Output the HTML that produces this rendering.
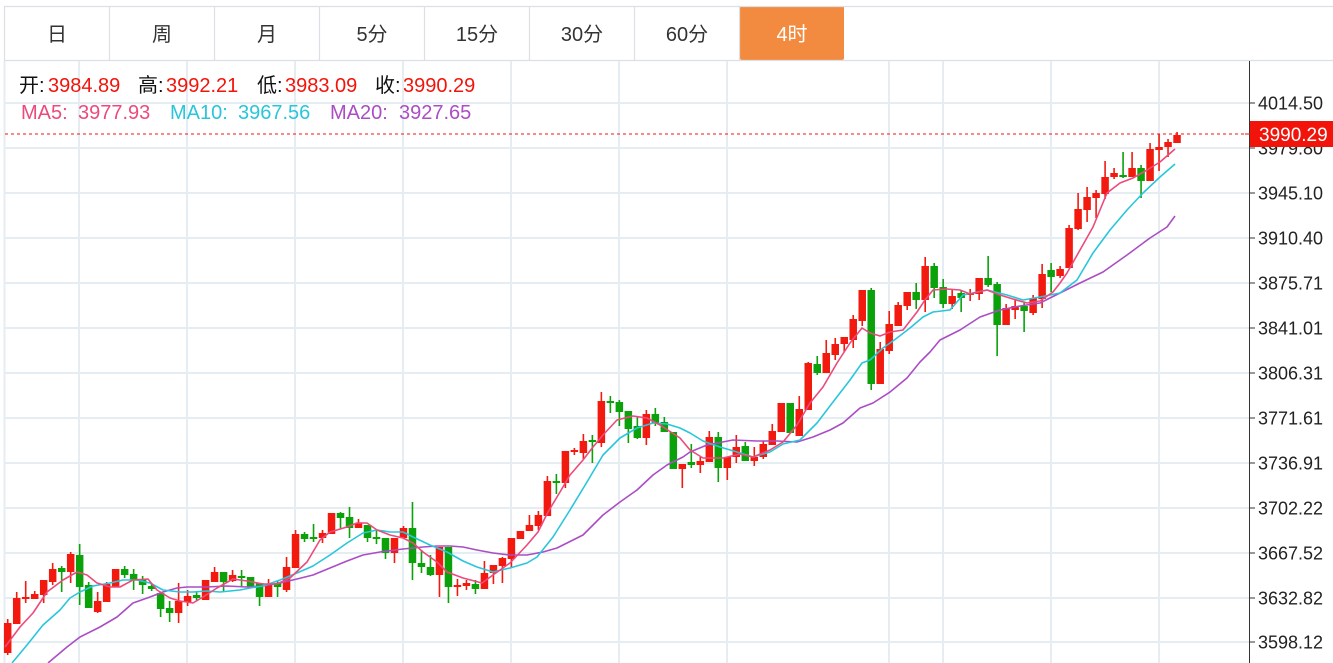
<!DOCTYPE html>
<html><head><meta charset="utf-8"><style>
html,body{margin:0;padding:0;background:#fff;}
body{width:1333px;height:663px;overflow:hidden;position:relative;font-family:"Liberation Sans","Noto Sans CJK SC",sans-serif;}
svg{position:absolute;left:0;top:0;}
</style></head><body>
<svg width="1333" height="663" viewBox="0 0 1333 663" xmlns="http://www.w3.org/2000/svg" font-family="Liberation Sans, Noto Sans CJK SC, sans-serif">
<!-- tab bar -->
<rect x="740" y="6" width="104" height="54" rx="2" fill="#F28B3F"/>
<line x1="4" y1="6.5" x2="1333" y2="6.5" stroke="#dcdfe3" stroke-width="1.2"/>
<line x1="4" y1="60.5" x2="1333" y2="60.5" stroke="#dcdfe3" stroke-width="1.2"/>
<g stroke="#dcdfe3" stroke-width="1.2">
<line x1="4.5" y1="6" x2="4.5" y2="60"/><line x1="109.5" y1="6" x2="109.5" y2="60"/><line x1="214.5" y1="6" x2="214.5" y2="60"/><line x1="319.5" y1="6" x2="319.5" y2="60"/><line x1="424.5" y1="6" x2="424.5" y2="60"/><line x1="529.5" y1="6" x2="529.5" y2="60"/><line x1="634.5" y1="6" x2="634.5" y2="60"/><line x1="739.5" y1="6" x2="739.5" y2="60"/>
</g>
<g font-size="20" fill="#333" text-anchor="middle">
<text x="57" y="41">日</text><text x="162" y="41">周</text><text x="267" y="41">月</text><text x="372" y="41">5分</text><text x="477" y="41">15分</text><text x="582" y="41">30分</text><text x="687" y="41">60分</text><text x="792" y="41" fill="#fff">4时</text>
</g>
<!-- grid -->
<g stroke="#e6edf2" stroke-width="2">
<line x1="4" y1="103" x2="1249" y2="103"/><line x1="4" y1="148" x2="1249" y2="148"/><line x1="4" y1="193" x2="1249" y2="193"/><line x1="4" y1="238" x2="1249" y2="238"/><line x1="4" y1="283" x2="1249" y2="283"/><line x1="4" y1="328" x2="1249" y2="328"/><line x1="4" y1="373" x2="1249" y2="373"/><line x1="4" y1="418" x2="1249" y2="418"/><line x1="4" y1="463" x2="1249" y2="463"/><line x1="4" y1="508" x2="1249" y2="508"/><line x1="4" y1="553" x2="1249" y2="553"/><line x1="4" y1="598" x2="1249" y2="598"/><line x1="4" y1="642" x2="1249" y2="642"/>
<line x1="79" y1="61" x2="79" y2="663"/><line x1="187" y1="61" x2="187" y2="663"/><line x1="295" y1="61" x2="295" y2="663"/><line x1="403" y1="61" x2="403" y2="663"/><line x1="511" y1="61" x2="511" y2="663"/><line x1="619" y1="61" x2="619" y2="663"/><line x1="727" y1="61" x2="727" y2="663"/><line x1="889" y1="61" x2="889" y2="663"/><line x1="943" y1="61" x2="943" y2="663"/><line x1="1051" y1="61" x2="1051" y2="663"/><line x1="1159" y1="61" x2="1159" y2="663"/>
<line x1="4.5" y1="61" x2="4.5" y2="663"/>
</g>
<g id="candles"></g>
<!-- MA lines -->
<polyline fill="none" stroke="#AB4DC4" stroke-width="1.6" stroke-linejoin="round" points="48,663 67,647 80,637 100,627 117,617 133,603 150,597 163,592 177,588 187,587 207,587 227,586 247,587 263,586 280,583 297,579 313,575 330,568 347,561 363,555 380,552 403,549 423,547 437,546 450,546 463,547 477,550 493,553 510,555 527,555 543,552 557,548 583,535 603,515 620,502 637,490 653,475 667,465 683,457 690,452 707,445 733,440 757,441 777,441 797,442 813,437 830,430 843,423 860,408 873,403 890,392 907,378 920,362 930,352 940,340 960,330 980,317 1000,310 1020,306 1040,303 1060,293 1080,283 1103,272 1127,255 1150,238 1167,227 1175,216"/>
<polyline fill="none" stroke="#29C6DB" stroke-width="1.6" stroke-linejoin="round" points="12,663 27,645 43,625 60,610 70,598 80,592 93,586 110,583 123,580 137,580 150,583 163,590 180,592 193,592 207,591 220,592 240,590 250,588 263,586 280,580 297,573 313,566 330,555 347,543 363,533 377,530 390,532 403,532 413,537 430,545 447,552 463,561 477,567 493,572 510,568 527,563 537,557 553,537 570,510 587,482 603,455 620,438 637,428 653,423 667,424 680,428 690,433 703,441 720,447 737,452 753,457 770,452 783,444 800,440 817,423 833,402 850,380 862,363 870,360 883,348 897,338 910,328 923,317 933,312 950,310 963,295 987,290 1007,295 1023,300 1040,297 1060,293 1077,280 1093,253 1110,230 1127,210 1143,193 1160,177 1175,164"/>
<polyline fill="none" stroke="#EC4A7C" stroke-width="1.6" stroke-linejoin="round" points="5,647 20,627 33,613 47,592 63,580 77,572 87,575 97,583 110,587 120,587 133,580 148,579 157,590 170,598 180,601 193,603 203,597 217,588 233,579 247,581 263,584 277,584 290,578 307,562 320,540 330,532 347,527 357,523 367,523 377,530 390,535 403,538 413,543 423,552 437,562 447,572 463,578 482,583 493,575 510,563 527,545 538,532 548,512 560,492 570,475 583,460 593,447 603,435 617,420 633,416 647,418 660,425 680,438 690,450 703,458 723,458 740,454 753,457 770,450 783,442 797,425 810,403 823,387 837,363 850,343 862,328 870,333 880,336 890,332 903,330 917,312 925,300 933,290 947,289 960,290 970,294 987,290 1000,295 1013,299 1027,303 1040,301 1053,292 1060,283 1067,273 1080,250 1093,227 1107,193 1120,183 1133,178 1147,170 1160,162 1175,149"/>
<!-- last price dashed line -->
<line x1="5" y1="134" x2="1249" y2="134" stroke="#f0140a" stroke-width="1" stroke-dasharray="3,3"/>
<!-- axis -->
<line x1="1249.5" y1="61" x2="1249.5" y2="663" stroke="#333" stroke-width="1"/>
<g stroke="#333" stroke-width="1">
<line x1="1249" y1="103" x2="1255" y2="103"/><line x1="1249" y1="148" x2="1255" y2="148"/><line x1="1249" y1="193" x2="1255" y2="193"/><line x1="1249" y1="238" x2="1255" y2="238"/><line x1="1249" y1="283" x2="1255" y2="283"/><line x1="1249" y1="328" x2="1255" y2="328"/><line x1="1249" y1="373" x2="1255" y2="373"/><line x1="1249" y1="418" x2="1255" y2="418"/><line x1="1249" y1="463" x2="1255" y2="463"/><line x1="1249" y1="508" x2="1255" y2="508"/><line x1="1249" y1="553" x2="1255" y2="553"/><line x1="1249" y1="598" x2="1255" y2="598"/><line x1="1249" y1="642" x2="1255" y2="642"/>
</g>
<g font-size="18" fill="#222">
<text x="1258" y="109.5">4014.50</text><text x="1258" y="154.5">3979.80</text><text x="1258" y="199.5">3945.10</text><text x="1258" y="244.5">3910.40</text><text x="1258" y="289.5">3875.71</text><text x="1258" y="334.5">3841.01</text><text x="1258" y="379.5">3806.31</text><text x="1258" y="424.5">3771.61</text><text x="1258" y="469.5">3736.91</text><text x="1258" y="514.5">3702.22</text><text x="1258" y="559.5">3667.52</text><text x="1258" y="604.5">3632.82</text><text x="1258" y="648.5">3598.12</text>
</g>
<line x1="1245" y1="134" x2="1250" y2="134" stroke="#f0140a" stroke-width="1"/>
<rect x="1250" y="121" width="83" height="26" fill="#F2140A"/>
<text x="1259" y="141" font-size="19" fill="#fff">3990.29</text>
<!-- info text -->
<g font-size="20">
<text x="19" y="92" fill="#111">开:</text><text x="48" y="92" fill="#F2140A">3984.89</text>
<text x="138" y="92" fill="#111">高:</text><text x="166" y="92" fill="#F2140A">3992.21</text>
<text x="257" y="92" fill="#111">低:</text><text x="285" y="92" fill="#F2140A">3983.09</text>
<text x="375" y="92" fill="#111">收:</text><text x="403" y="92" fill="#F2140A">3990.29</text>
<text x="21" y="119" fill="#EC4A7C">MA5:</text><text x="78" y="119" fill="#EC4A7C">3977.93</text>
<text x="170" y="119" fill="#29C6DB">MA10:</text><text x="238" y="119" fill="#29C6DB">3967.56</text>
<text x="330" y="119" fill="#AB4DC4">MA20:</text><text x="399" y="119" fill="#AB4DC4">3927.65</text>
</g>
</svg>
<script>
var D=[
['r',623,653,619,655],['r',598,624,592,624],['r',597,599,581,603],['r',594,599,591,599],['r',580,595,580,603],['r',569,582,563,585],['g',568,572,566,592],['r',554,572,552,583],['g',555,587,544,605],['g',585,608,582,608],
['r',601,612,592,613],['r',584,602,582,602],['r',569,587,569,587],['g',569,575,566,578],['g',574,580,569,590],['g',579,585,576,594],['g',586,589,583,591],['g',593,609,593,617],['g',608,613,601,622],['r',601,613,583,623],
['r',596,602,590,606],['g',595,598,592,601],['r',580,600,580,600],['r',572,582,567,582],['g',572,582,572,591],['r',575,581,570,582],['g',576,578,570,586],['g',577,587,577,587],['g',583,597,583,606],['r',584,597,579,597],
['g',583,587,581,597],['r',567,590,557,592],['r',534,568,530,568],['g',534,539,532,542],['g',537,539,524,542],['r',533,538,530,543],['r',513,534,513,534],['g',513,518,512,529],['g',517,528,507,538],['r',523,528,519,528],
['g',525,538,525,542],['g',537,539,530,544],['g',538,553,538,559],['r',538,553,538,563],['r',528,538,526,538],['g',528,563,502,580],['g',563,567,550,573],['g',567,575,555,576],['r',547,575,547,597],['g',547,587,547,603],
['r',585,587,579,596],['r',583,586,580,590],['g',584,589,580,594],['r',573,589,561,589],['r',565,573,565,584],['r',558,566,557,583],['r',538,559,538,567],['r',531,539,531,539],['r',525,531,515,531],['r',515,526,511,530],
['r',481,516,476,516],['g',481,483,474,494],['r',451,483,451,488],['r',450,452,448,455],['r',441,453,434,459],['g',440,442,435,463],['r',401,443,392,447],['g',401,403,396,413],['g',402,412,400,426],['g',411,429,411,443],
['g',426,438,417,439],['r',414,438,410,445],['g',414,423,408,426],['g',422,432,417,432],['g',432,469,432,469],['r',464,469,464,488],['g',462,465,444,468],['r',461,465,457,473],['r',437,462,431,462],['g',437,468,432,482],
['r',457,468,457,480],['r',447,457,435,463],['g',446,461,442,461],['r',457,461,447,466],['r',444,457,441,459],['r',431,445,424,445],['r',403,432,403,432],['g',403,433,403,433],['r',409,436,396,436],['r',363,410,362,410],
['g',364,373,356,375],['r',353,373,340,373],['r',344,355,338,360],['r',337,344,337,352],['r',319,340,315,348],['r',290,321,290,326],['g',290,384,288,390],['r',349,384,342,384],['r',324,351,311,354],['r',305,326,302,326],
['r',292,306,292,310],['g',292,300,283,309],['r',266,300,257,312],['g',266,288,263,298],['g',287,304,279,308],['r',296,304,290,309],['g',293,298,290,312],['r',293,295,289,301],['r',278,294,278,300],['g',278,285,256,287],
['g',284,325,282,356],['r',308,325,304,325],['r',306,310,300,319],['g',306,311,303,332],['r',298,313,295,315],['r',274,299,264,308],['g',270,277,263,292],['r',269,276,266,278],['r',228,268,225,268],['r',209,229,193,230],
['r',197,210,187,222],['r',193,198,190,218],['r',177,194,161,199],['r',173,177,168,179],['g',175,177,152,178],['r',168,177,152,177],['g',168,181,165,198],['r',149,181,143,181],['r',147,150,134,171],['r',142,147,139,157],
['r',135,143,132,143]
];
var s='';
for(var i=0;i<D.length;i++){var d=D[i];var x=7.7+i*8.995;var c=d[0]=='r'?'#F2190E':'#0AA10A';
var wt=Math.min(d[3],d[1]),wb=Math.max(d[4],d[2]);
s+='<line x1="'+x.toFixed(2)+'" x2="'+x.toFixed(2)+'" y1="'+wt+'" y2="'+wb+'" stroke="'+c+'" stroke-width="1.6"/>';
var h=Math.max(d[2]-d[1],2);
s+='<rect x="'+(x-3.75).toFixed(2)+'" y="'+d[1]+'" width="7.5" height="'+h+'" fill="'+c+'"/>';}
document.getElementById('candles').innerHTML=s;
</script>
</body></html>
